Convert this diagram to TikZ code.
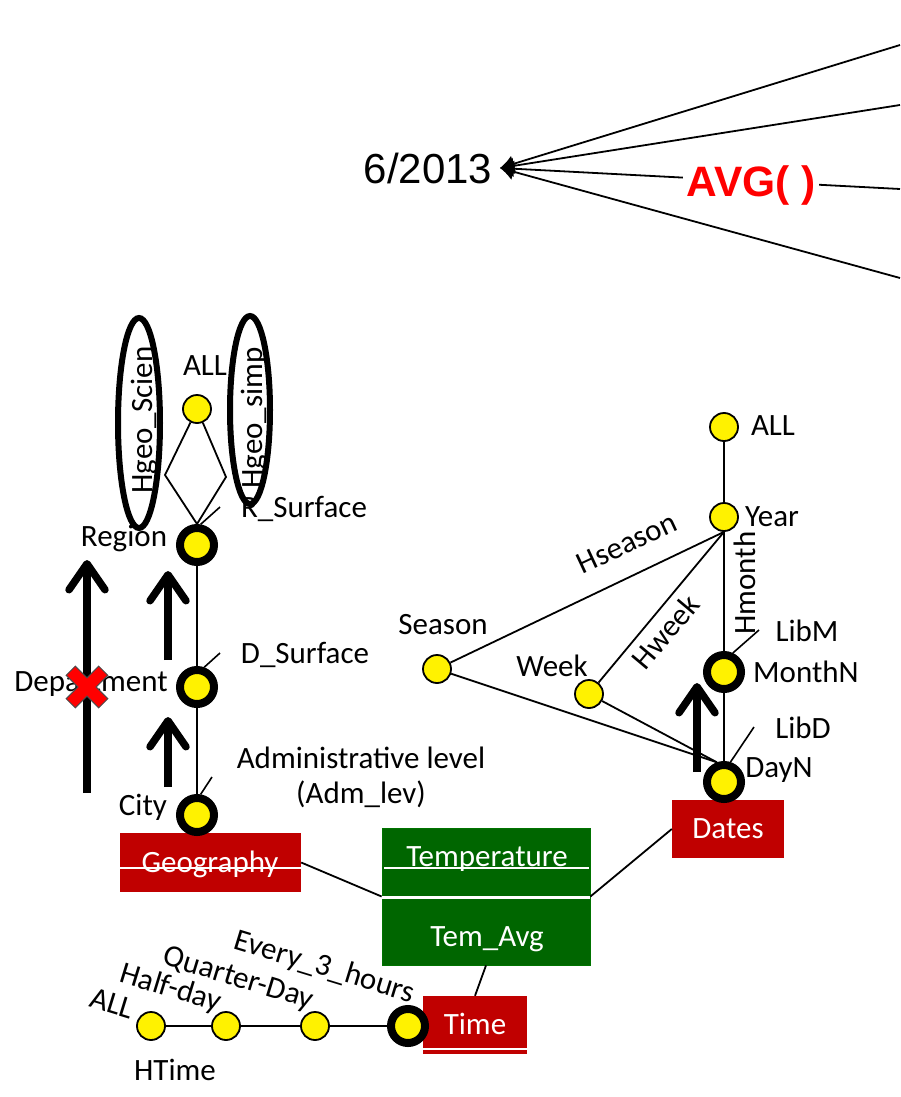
\documentclass[tikz,border=0pt]{standalone}
\usepackage{fontspec}
\setmainfont{Carlito}
\newfontfamily\arialfont{Liberation Sans}
\usetikzlibrary{arrows.meta}
\definecolor{boxred}{HTML}{C00000}
\definecolor{boxgreen}{HTML}{006600}
\definecolor{aggred}{HTML}{FF0000}
\begin{document}
\begin{tikzpicture}[x=1pt, y=-1pt,
  lbl/.style={font=\fontsize{31}{34}\selectfont, inner sep=0pt, text height=20pt, text depth=0pt},
  wlbl/.style={lbl, text=white},
  lvl/.style={circle, draw=black, line width=1.8pt, fill=yellow, minimum size=28pt, inner sep=0pt},
  keylvl/.style={circle, draw=black, line width=8pt, fill=yellow, minimum size=34pt, inner sep=0pt},
  link/.style={line width=1.8pt},
  tick/.style={line width=1.6pt},
  hier/.style={line width=6pt},
  dimbox/.style={fill=boxred, inner sep=0pt},
  factbox/.style={fill=boxgreen, draw=green!45!black, line width=0.8pt, inner sep=0pt},
  rollup/.style={line width=7.5pt, -{Straight Barb[length=26pt, width=36pt, round]}},
]
\useasboundingbox[fill=white] (0,0) rectangle (900,1097);

% ---------- aggregation of the measure ----------
\node[font=\arialfont\fontsize{42}{46}\selectfont, inner sep=0pt, text height=30pt, text depth=0pt] (month) at (428,168) {6/2013};
\coordinate (tip) at (500,168);
\coordinate (m1) at (900,45);
\coordinate (m2) at (900,105);
\coordinate (m3) at (900,189);
\coordinate (m4) at (900,278);
\foreach \m in {m1,m2,m3,m4}
  \draw[link, -{Latex[length=14pt,width=17pt]}] (\m) -- (tip);
\node[font=\arialfont\bfseries\fontsize{42.5}{46}\selectfont, text=aggred, fill=white,
      inner xsep=3pt, inner ysep=0pt, text height=30pt, text depth=0pt] (avg) at (751,181) {AVG( )};

% ---------- fact and dimension boxes ----------
\node[dimbox, minimum width=181pt, minimum height=59pt] (geo) at (210.5,862.5) {};
\node[wlbl] (geoname) at (210,862) {Geography};
\draw[white, line width=1.2pt] (120,868) -- (301,868);

\node[factbox, minimum width=208pt, minimum height=137pt] (temp) at (486,896.5) {};
\node[wlbl] (tempname) at (487,856) {Temperature};
\node[wlbl] (tempavg) at (487,936) {Tem\_Avg};
\draw[white, line width=1.2pt] (384,868) -- (589,868);
\draw[white, line width=3pt] (382,897) -- (590,897);

\node[dimbox, minimum width=104pt, minimum height=58pt] (time) at (475,1025) {};
\node[wlbl] (timename) at (475,1024) {Time};
\draw[white, line width=1.6pt] (423,1049) -- (527,1049);

\node[dimbox, minimum width=112pt, minimum height=58pt] (dates) at (728,829) {};
\node[wlbl] (datesname) at (728,828) {Dates};

\draw[link] (geo.east) -- (temp.west);
\draw[link] (temp.east) -- (dates.west);
\draw[link] (temp.south) -- (time.north);

% ---------- geography hierarchies ----------
\node[lvl] (gall) at (197,409) {};
\node[keylvl] (region) at (197,545) {};
\node[keylvl] (dept) at (197,687) {};
\node[keylvl] (city) at (197,815) {};
\coordinate (gl) at (165,475);
\coordinate (gr) at (226,477);
\draw[link] (gall) -- (gl) -- (region.north);
\draw[link] (gall) -- (gr) -- (region.north);
\draw[link] (region) -- (dept) -- (city);

\coordinate (rtick) at (220,507);
\coordinate (dtick) at (220,653);
\coordinate (atick) at (212,777);
\draw[tick] (region.80) -- (rtick);
\draw[tick] (dept.70) -- (dtick);
\draw[tick] (city.80) -- (atick);

\node[lbl] (gallname) at (205,365) {ALL};
\node[lbl] (regname) at (124,536) {Region};
\node[lbl] (deptname) at (91,681) {Department};
\node[lbl] (cityname) at (143,805) {City};
\node[lbl] (rsurf) at (304,507) {R\_Surface};
\node[lbl] (dsurf) at (305,653) {D\_Surface};
\node[lbl] (admA) at (361,758) {Administrative level};
\node[lbl] (admB) at (361,793) {(Adm\_lev)};

\node[lbl, rotate=90] (hsci) at (142,420) {Hgeo\_Scien};
\node[lbl, rotate=90] (hsimp) at (252,418) {Hgeo\_simp};
\draw[hier] (139,423) ellipse [x radius=21, y radius=105];
\draw[hier] (250,410) ellipse [x radius=20, y radius=94];

% roll-up arrows
\coordinate (a1s) at (87,793);  \coordinate (a1e) at (87,560);
\coordinate (a2s) at (168,660); \coordinate (a2e) at (168,571);
\coordinate (a3s) at (168,787); \coordinate (a3e) at (168,717);
\draw[rollup] (a1s) -- (a1e);
\draw[rollup] (a2s) -- (a2e);
\draw[rollup] (a3s) -- (a3e);

% forbidden roll-up mark
\begin{scope}[shift={(87,687)}, rotate=45]
  \filldraw[fill=aggred, draw=black!70, line width=1pt]
    (6.5,6.5) -- (6.5,23) -- (-6.5,23) -- (-6.5,6.5) -- (-23,6.5) -- (-23,-6.5)
    -- (-6.5,-6.5) -- (-6.5,-23) -- (6.5,-23) -- (6.5,-6.5) -- (23,-6.5) -- (23,6.5) -- cycle;
\end{scope}

% ---------- dates hierarchies ----------
\node[lvl] (dall) at (724,427) {};
\node[lvl] (year) at (724,517) {};
\node[lvl] (season) at (437,669) {};
\node[lvl] (week) at (589,694) {};
\node[keylvl] (monthN) at (724,672) {};
\node[keylvl] (dayN) at (724,782) {};

\draw[link] (dall) -- (year);
\draw[link] (season) -- (year.south);
\draw[link] (week) -- (year.south);
\draw[link] (year) -- (monthN) -- (dayN);
\draw[link] (season) -- (dayN.110);
\draw[link] (week) -- (dayN.110);

\coordinate (lmtick) at (759,630);
\coordinate (ldtick) at (754,727);
\draw[tick] (monthN.65) -- (lmtick);
\draw[tick] (dayN.72) -- (ldtick);

\node[lbl] (dallname) at (773,425) {ALL};
\node[lbl] (yearname) at (772,516) {Year};
\node[lbl] (seasonname) at (443,624) {Season};
\node[lbl] (weekname) at (552,666) {Week};
\node[lbl] (monthname) at (806,672) {MonthN};
\node[lbl] (dayname) at (779,767) {DayN};
\node[lbl] (libm) at (807,631) {LibM};
\node[lbl] (libd) at (803,728) {LibD};
\node[lbl, rotate=25] (hseason) at (627,543) {Hseason};
\node[lbl, rotate=50] (hweek) at (666,632) {Hweek};
\node[lbl, rotate=90] (hmonth) at (745,583) {Hmonth};

\coordinate (a4s) at (697,772); \coordinate (a4e) at (697,683);
\draw[rollup] (a4s) -- (a4e);

% ---------- time hierarchy ----------
\node[lvl] (tall) at (151,1026) {};
\node[lvl] (thalf) at (226,1026) {};
\node[lvl] (tquarter) at (315,1026) {};
\node[keylvl] (tevery) at (408,1026) {};
\draw[link] (tall) -- (thalf) -- (tquarter) -- (tevery);

\node[lbl, rotate=-17] (tallname) at (112,1003) {ALL};
\node[lbl, rotate=-17] (thalfname) at (171,987) {Half-day};
\node[lbl, rotate=-17] (tquartername) at (239,977) {Quarter-Day};
\node[lbl, rotate=-17] (teveryname) at (325,966) {Every\_3\_hours};
\node[lbl] (htime) at (175,1070) {HTime};
\end{tikzpicture}
\end{document}
